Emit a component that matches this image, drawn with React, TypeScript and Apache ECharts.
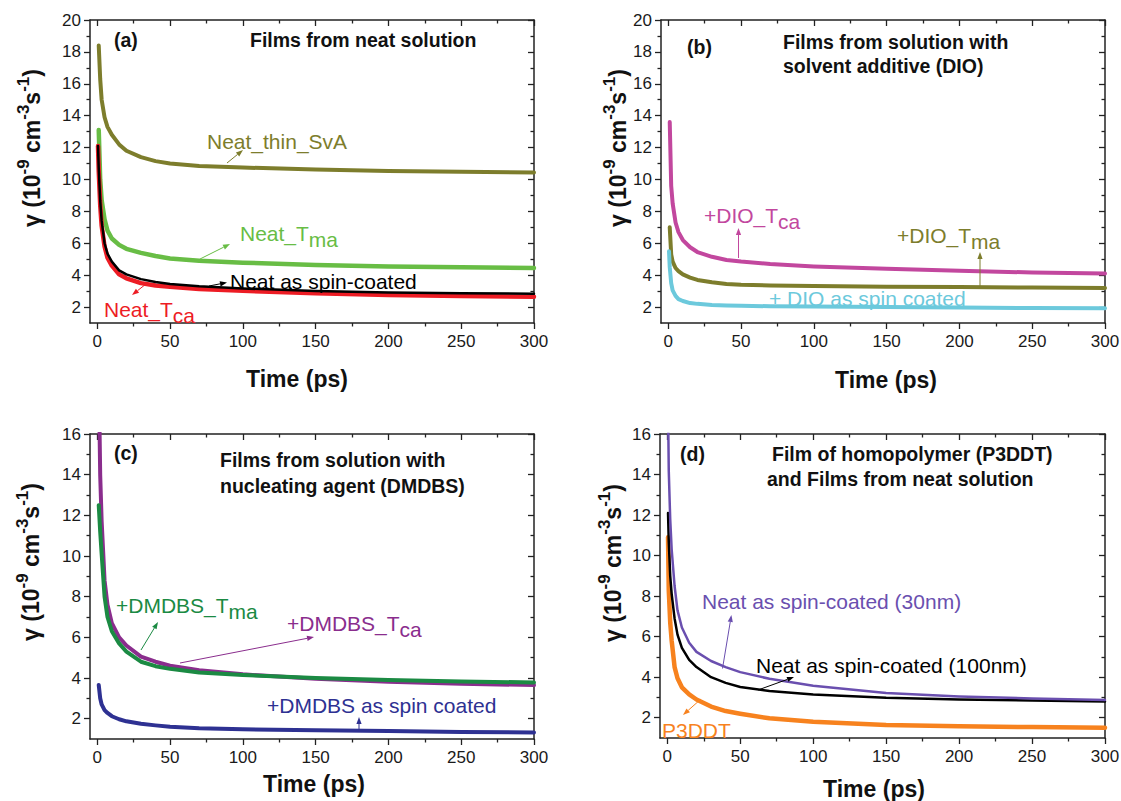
import React, { useEffect, useRef } from 'react';
import * as echarts from 'echarts';

const FONT = '"Liberation Sans", Arial, Helvetica, sans-serif';

// ---------- data ----------
const timeEarly = [0.5, 1, 2, 3, 5, 7, 10, 15, 20, 30, 40, 50, 70, 100, 150, 200, 250, 300];
const timeOne = [1, 2, 3, 5, 7, 10, 15, 20, 30, 40, 50, 70, 100, 150, 200, 250, 300];

const xMajorTicks = [0, 50, 100, 150, 200, 250, 300];
const xMinorTicks = [25, 75, 125, 175, 225, 275];
const yMajorTicks20 = [2, 4, 6, 8, 10, 12, 14, 16, 18, 20];
const yMinorTicks20 = [3, 5, 7, 9, 11, 13, 15, 17, 19];
const yMajorTicks16 = [2, 4, 6, 8, 10, 12, 14, 16];
const yMinorTicks16 = [3, 5, 7, 9, 11, 13, 15];

// (a) films from neat solution
const neatThinSvA = [18.4, 16.3, 15.0, 13.9, 13.3, 12.8, 12.2, 11.8, 11.4, 11.15, 11.0, 10.85, 10.75, 10.62, 10.53, 10.48, 10.44];
const neatTma = [13.1, 10.0, 8.7, 7.5, 6.8, 6.3, 5.9, 5.65, 5.4, 5.2, 5.05, 4.9, 4.78, 4.64, 4.55, 4.5, 4.45];
const neatTca = [12.1, 10.5, 8.4, 7.1, 5.8, 5.1, 4.6, 4.05, 3.8, 3.5, 3.35, 3.27, 3.13, 3.02, 2.87, 2.76, 2.7, 2.65];
const neatSpin = [12.1, 10.7, 8.7, 7.4, 6.0, 5.35, 4.85, 4.3, 4.05, 3.75, 3.57, 3.45, 3.3, 3.17, 3.0, 2.92, 2.87, 2.83];

// (b) films with DIO
const dioTca = [13.6, 9.6, 8.5, 7.3, 6.7, 6.2, 5.75, 5.45, 5.15, 4.95, 4.85, 4.7, 4.55, 4.4, 4.27, 4.17, 4.1];
const dioTma = [7.0, 5.3, 4.85, 4.45, 4.25, 4.05, 3.85, 3.7, 3.55, 3.45, 3.4, 3.35, 3.32, 3.28, 3.25, 3.22, 3.2];
const dioSpin = [5.5, 4.5, 3.5, 3.05, 2.7, 2.5, 2.38, 2.25, 2.2, 2.13, 2.1, 2.08, 2.05, 2.03, 2.0, 1.97, 1.94, 1.92];

// (c) films with DMDBS
const dmdbsTca = [19.0, 14.0, 11.7, 8.8, 7.6, 6.7, 6.0, 5.6, 5.05, 4.8, 4.6, 4.38, 4.18, 3.96, 3.82, 3.72, 3.65];
const dmdbsTma = [12.5, 11.2, 10.1, 8.0, 7.0, 6.3, 5.7, 5.3, 4.8, 4.58, 4.45, 4.27, 4.15, 4.0, 3.9, 3.83, 3.78];
const dmdbsSpin = [3.66, 3.0, 2.7, 2.42, 2.28, 2.12, 1.97, 1.87, 1.75, 1.67, 1.6, 1.53, 1.48, 1.43, 1.39, 1.35, 1.32];

// (d) homopolymer and neat films
const neatSpin30 = [17.5, 14.2, 11.8, 10.3, 8.5, 7.3, 6.45, 5.7, 5.25, 4.8, 4.5, 4.25, 3.92, 3.58, 3.22, 3.05, 2.95, 2.88];
const neatSpin100 = [12.1, 10.7, 9.0, 8.1, 6.9, 6.1, 5.45, 4.85, 4.5, 4.0, 3.72, 3.52, 3.32, 3.15, 2.98, 2.9, 2.85, 2.8];
const p3ddt = [10.9, 8.3, 6.7, 5.8, 4.5, 3.95, 3.5, 3.15, 2.9, 2.55, 2.33, 2.2, 1.97, 1.8, 1.64, 1.58, 1.54, 1.51];

// ---------- styling ----------
const AXIS_COLOR = '#222';
const C = {
  olive: '#7d7d2c',
  lightGreen: '#68bd45',
  red: '#ed1c24',
  black: '#000000',
  magenta: '#c2479e',
  cyan: '#6cc9dc',
  purple: '#8a2d8d',
  green: '#1b8a43',
  navy: '#2e3192',
  violet: '#6a4faf',
  orange: '#f7821e',
};

const grids = [
  { left: 90, top: 20, width: 444, height: 303 },
  { left: 661, top: 20, width: 444, height: 303 },
  { left: 90, top: 434, width: 444, height: 305 },
  { left: 660, top: 434, width: 445, height: 304 },
];
const yMaxes = [20, 20, 16, 16];

function zip(ts: number[], vs: number[]) {
  return vs.map((v, i) => [ts[i], v]);
}

function buildAxes() {
  const xAxis: any[] = [];
  const yAxis: any[] = [];
  grids.forEach((_, p) => {
    const yMajor = yMaxes[p] === 20 ? yMajorTicks20 : yMajorTicks16;
    const yMinor = yMaxes[p] === 20 ? yMinorTicks20 : yMinorTicks16;
    const lineStyle = { color: AXIS_COLOR, width: 1.5 };
    const baseX = { gridIndex: p, type: 'value', min: -5, max: 300, splitLine: { show: false } };
    const baseY = { gridIndex: p, type: 'value', min: 1, max: yMaxes[p], splitLine: { show: false } };
    const mk = (base: any, position: string, major: boolean, inside: boolean, values: number[], showLabel: boolean) => ({
      ...base,
      position,
      offset: 0,
      axisLine: { show: major, onZero: false, lineStyle },
      axisTick: { show: true, inside, length: major ? 6 : 3.5, customValues: values, lineStyle: { color: AXIS_COLOR, width: 1.3 } },
      axisLabel: showLabel
        ? { show: true, customValues: values, margin: position === 'bottom' ? 10 : 9, fontSize: 17, color: '#1a1a1a', fontFamily: FONT }
        : { show: false },
    });
    xAxis.push(mk(baseX, 'bottom', true, false, xMajorTicks, true));
    xAxis.push(mk(baseX, 'bottom', false, false, xMinorTicks, false));
    xAxis.push(mk(baseX, 'top', true, true, xMajorTicks, false));
    xAxis.push(mk(baseX, 'top', false, true, xMinorTicks, false));
    yAxis.push(mk(baseY, 'left', true, false, yMajor, true));
    yAxis.push(mk(baseY, 'left', false, false, yMinor, false));
    yAxis.push(mk(baseY, 'right', true, true, yMajor, false));
    yAxis.push(mk(baseY, 'right', false, true, yMinor, false));
  });
  return { xAxis, yAxis };
}

function line(name: string, p: number, data: number[][], color: string, width: number) {
  return {
    name,
    type: 'line',
    xAxisIndex: p * 4,
    yAxisIndex: p * 4,
    data,
    showSymbol: false,
    symbol: 'none',
    smooth: false,
    clip: true,
    lineStyle: { color, width, cap: 'round', join: 'round' },
    itemStyle: { color },
    z: 3,
  };
}

// ---------- graphic helpers ----------
function text(x: number, y: number, s: string, opts: any = {}) {
  return {
    type: 'text',
    x,
    y,
    silent: true,
    z: 20,
    style: { text: s, fontFamily: FONT, fill: '#111', align: 'left', verticalAlign: 'middle', ...opts },
  };
}

function label(x: number, y: number, main: string, sub: string | null, color: string) {
  return {
    type: 'text',
    x,
    y,
    silent: true,
    z: 20,
    style: {
      text: sub ? `{n|${main}}{s|${sub}}` : `{n|${main}}`,
      align: 'left',
      verticalAlign: 'middle',
      rich: {
        n: { fontSize: 21, lineHeight: 33, fill: color, fontFamily: FONT },
        s: { fontSize: 21, lineHeight: 21, verticalAlign: 'bottom', fill: color, fontFamily: FONT },
      },
    },
  };
}

function arrow(x1: number, y1: number, x2: number, y2: number, color: string) {
  const dx = x2 - x1;
  const dy = y2 - y1;
  const L = Math.hypot(dx, dy);
  const ux = dx / L;
  const uy = dy / L;
  const hl = 7;
  const hw = 2.6;
  const bx = x2 - ux * hl;
  const by = y2 - uy * hl;
  return [
    { type: 'line', silent: true, z: 19, shape: { x1, y1, x2: bx, y2: by }, style: { stroke: color, lineWidth: 1 } },
    {
      type: 'polygon',
      silent: true,
      z: 19,
      shape: { points: [[x2, y2], [bx - uy * hw, by + ux * hw], [bx + uy * hw, by - ux * hw]] },
      style: { fill: color },
    },
  ];
}

function yTitle(x: number, y: number) {
  return {
    type: 'text',
    x,
    y,
    rotation: Math.PI / 2,
    silent: true,
    z: 20,
    style: {
      text: '{n|γ (10}{p|-9}{n| cm}{p|-3}{n|s}{p|-1}{n|)}',
      align: 'center',
      verticalAlign: 'middle',
      rich: {
        n: { fontSize: 23, fontWeight: 'bold', lineHeight: 34, fill: '#111', fontFamily: FONT },
        p: { fontSize: 17, fontWeight: 'bold', lineHeight: 17, verticalAlign: 'top', fill: '#111', fontFamily: FONT },
      },
    },
  };
}

function xTitle(x: number, y: number) {
  return text(x, y, 'Time (ps)', { fontSize: 23, fontWeight: 'bold', align: 'center' });
}

function bold(x: number, y: number, s: string) {
  return text(x, y, s, { fontSize: 19.5, fontWeight: 'bold' });
}

export default function App() {
  const ref = useRef<HTMLDivElement>(null);

  useEffect(() => {
    if (!ref.current) return;
    const chart = echarts.init(ref.current, undefined, { renderer: 'svg' });
    const { xAxis, yAxis } = buildAxes();

    const series = [
      line('Neat_thin_SvA', 0, zip(timeOne, neatThinSvA), C.olive, 4),
      line('Neat_Tma', 0, zip(timeOne, neatTma), C.lightGreen, 4.5),
      line('Neat_Tca', 0, zip(timeEarly, neatTca), C.red, 4.5),
      line('Neat as spin-coated', 0, zip(timeEarly, neatSpin), C.black, 2.5),

      line('+DIO_Tca', 1, zip(timeOne, dioTca), C.magenta, 4),
      line('+DIO_Tma', 1, zip(timeOne, dioTma), C.olive, 4),
      line('+ DIO as spin coated', 1, zip(timeEarly, dioSpin), C.cyan, 4),

      line('+DMDBS_Tca', 2, zip(timeOne, dmdbsTca), C.purple, 4),
      line('+DMDBS_Tma', 2, zip(timeOne, dmdbsTma), C.green, 4),
      line('+DMDBS as spin coated', 2, zip(timeOne, dmdbsSpin), C.navy, 4),

      line('P3DDT', 3, zip(timeEarly, p3ddt), C.orange, 4.5),
      line('Neat as spin-coated (100nm)', 3, zip(timeEarly, neatSpin100), C.black, 2.5),
      line('Neat as spin-coated (30nm)', 3, zip(timeEarly, neatSpin30), C.violet, 2.5),
    ];

    const graphic: any[] = [
      // axis titles
      yTitle(32, 148), yTitle(618, 148), yTitle(31, 562), yTitle(613, 563),
      xTitle(297, 379), xTitle(886, 380), xTitle(314, 784), xTitle(874, 789),

      // panel headers
      bold(114, 40, '(a)'), bold(250, 40, 'Films from neat solution'),
      bold(687, 47, '(b)'), bold(783, 42, 'Films from solution with'), bold(783, 66, 'solvent additive (DIO)'),
      bold(114, 453, '(c)'), bold(220, 460, 'Films from solution with'), bold(220, 486, 'nucleating agent (DMDBS)'),
      bold(680, 454, '(d)'), bold(772, 454, 'Film of homopolymer (P3DDT)'), bold(767, 479, 'and Films from neat solution'),

      // (a) annotations
      label(207, 141, 'Neat_thin_SvA', null, C.olive), ...arrow(227, 163, 243, 150, C.olive),
      label(240, 233, 'Neat_T', 'ma', C.lightGreen), ...arrow(198, 260, 230, 244, C.lightGreen),
      label(230, 281, 'Neat as spin-coated', null, C.black), ...arrow(209, 286, 227, 282.5, C.black),
      label(104, 309, 'Neat_T', 'ca', C.red), ...arrow(146, 284, 132, 295, C.red),

      // (b) annotations
      label(704, 215, '+DIO_T', 'ca', C.magenta), ...arrow(738.5, 258, 738.5, 228, C.magenta),
      label(897, 235, '+DIO_T', 'ma', C.olive), ...arrow(980, 287, 980, 252, C.olive),
      label(769, 298, '+ DIO as spin coated', null, C.cyan),

      // (c) annotations
      label(116, 605, '+DMDBS_T', 'ma', C.green), ...arrow(141, 650, 158, 622, C.green),
      label(287, 623, '+DMDBS_T', 'ca', C.purple), ...arrow(180, 663, 314, 637, C.purple),
      label(267, 705, '+DMDBS as spin coated', null, C.navy), ...arrow(359, 732, 359, 717, C.navy),

      // (d) annotations
      label(702, 601, 'Neat as spin-coated (30nm)', null, C.violet), ...arrow(722.5, 668.5, 731.4, 615, C.violet),
      label(756, 665, 'Neat as spin-coated (100nm)', null, C.black), ...arrow(758, 690, 794, 677, C.black),
      label(662, 730.5, 'P3DDT', null, C.orange), ...arrow(701, 699, 683, 715, C.orange),
    ];

    chart.setOption({
      animation: false,
      backgroundColor: '#ffffff',
      textStyle: { fontFamily: FONT },
      grid: grids.map((g) => ({ ...g, outerBoundsMode: 'none', containLabel: false })),
      xAxis,
      yAxis,
      series,
      graphic,
    });

    return () => chart.dispose();
  }, []);

  return (
    <div
      ref={ref}
      style={{ position: 'absolute', left: 0, top: 0, width: 1121, height: 801, background: '#fff' }}
    />
  );
}
